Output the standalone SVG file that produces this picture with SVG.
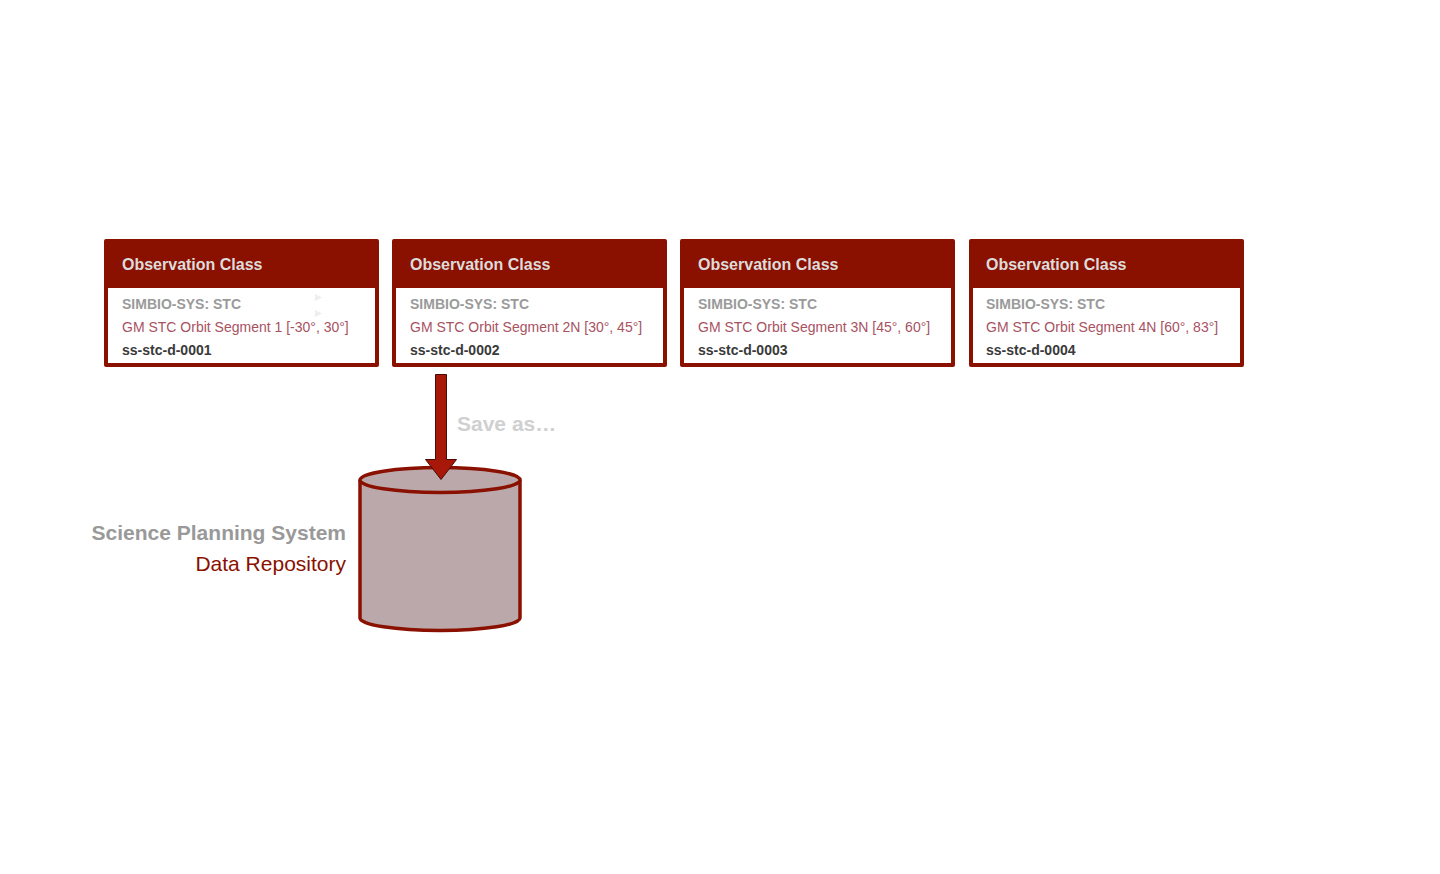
<svg xmlns="http://www.w3.org/2000/svg" width="1440" height="874" viewBox="0 0 1440 874">
<style>
.frame{fill:#8a1000}
.body{fill:#ffffff}
.hdr{font-family:"Liberation Sans",Arial,sans-serif;font-size:16px;font-weight:bold;fill:#dcdcdc}
.l1{font-family:"Liberation Sans",Arial,sans-serif;font-size:14px;font-weight:bold;fill:#9a9a9a}
.l2{font-family:"Liberation Sans",Arial,sans-serif;font-size:14px;fill:#a8525f}
.l3{font-family:"Liberation Sans",Arial,sans-serif;font-size:14px;font-weight:bold;fill:#3a3a3a}
.tri{fill:#eeeeee}
</style>
<rect width="1440" height="874" fill="#ffffff"/>
<g id="node1">
<rect class="frame" x="104" y="239" width="275" height="128" rx="2"/>
<rect class="body" x="108" y="288" width="267" height="75"/>
<text class="hdr" x="122" y="270">Observation Class</text>
<text class="l1" x="122" y="309">SIMBIO-SYS: STC</text>
<text class="l2" x="122" y="332">GM STC Orbit Segment 1 [-30°, 30°]</text>
<text class="l3" x="122" y="355">ss-stc-d-0001</text>
<polygon class="tri" points="315,294 322,297.5 315,301"/>
<polygon class="tri" points="315,310 322,313.5 315,317"/>
</g>
<g id="node2">
<rect class="frame" x="392" y="239" width="275" height="128" rx="2"/>
<rect class="body" x="396" y="288" width="267" height="75"/>
<text class="hdr" x="410" y="270">Observation Class</text>
<text class="l1" x="410" y="309">SIMBIO-SYS: STC</text>
<text class="l2" x="410" y="332">GM STC Orbit Segment 2N [30°, 45°]</text>
<text class="l3" x="410" y="355">ss-stc-d-0002</text>
</g>
<g id="node3">
<rect class="frame" x="680" y="239" width="275" height="128" rx="2"/>
<rect class="body" x="684" y="288" width="267" height="75"/>
<text class="hdr" x="698" y="270">Observation Class</text>
<text class="l1" x="698" y="309">SIMBIO-SYS: STC</text>
<text class="l2" x="698" y="332">GM STC Orbit Segment 3N [45°, 60°]</text>
<text class="l3" x="698" y="355">ss-stc-d-0003</text>
</g>
<g id="node4">
<rect class="frame" x="969" y="239" width="275" height="128" rx="2"/>
<rect class="body" x="973" y="288" width="267" height="75"/>
<text class="hdr" x="986" y="270">Observation Class</text>
<text class="l1" x="986" y="309">SIMBIO-SYS: STC</text>
<text class="l2" x="986" y="332">GM STC Orbit Segment 4N [60°, 83°]</text>
<text class="l3" x="986" y="355">ss-stc-d-0004</text>
</g>
<g id="repository">
<path d="M360,480 L360,618 A80,12.5 0 0 0 520,618 L520,480" fill="#bba8ab" stroke="#8a1000" stroke-width="3.5"/>
<ellipse cx="440" cy="480" rx="80" ry="12.5" fill="#bba8ab" stroke="#8a1000" stroke-width="3.5"/>
<text x="346" y="540" text-anchor="end" font-family="'Liberation Sans',Arial,sans-serif" font-size="21" font-weight="bold" fill="#999999">Science Planning System</text>
<text x="346" y="571" text-anchor="end" font-family="'Liberation Sans',Arial,sans-serif" font-size="21" fill="#8a1000">Data Repository</text>
</g>
<g id="connectors">
<polygon points="435.5,374.5 446.5,374.5 446.5,459.5 456.5,459.5 441,479.5 425.5,459.5 435.5,459.5" fill="#a81808" stroke="#4a0a04" stroke-width="1"/>
<text x="457" y="431" font-family="'Liberation Sans',Arial,sans-serif" font-size="21" font-weight="bold" fill="#d0d0d0">Save as…</text>
</g>
</svg>
